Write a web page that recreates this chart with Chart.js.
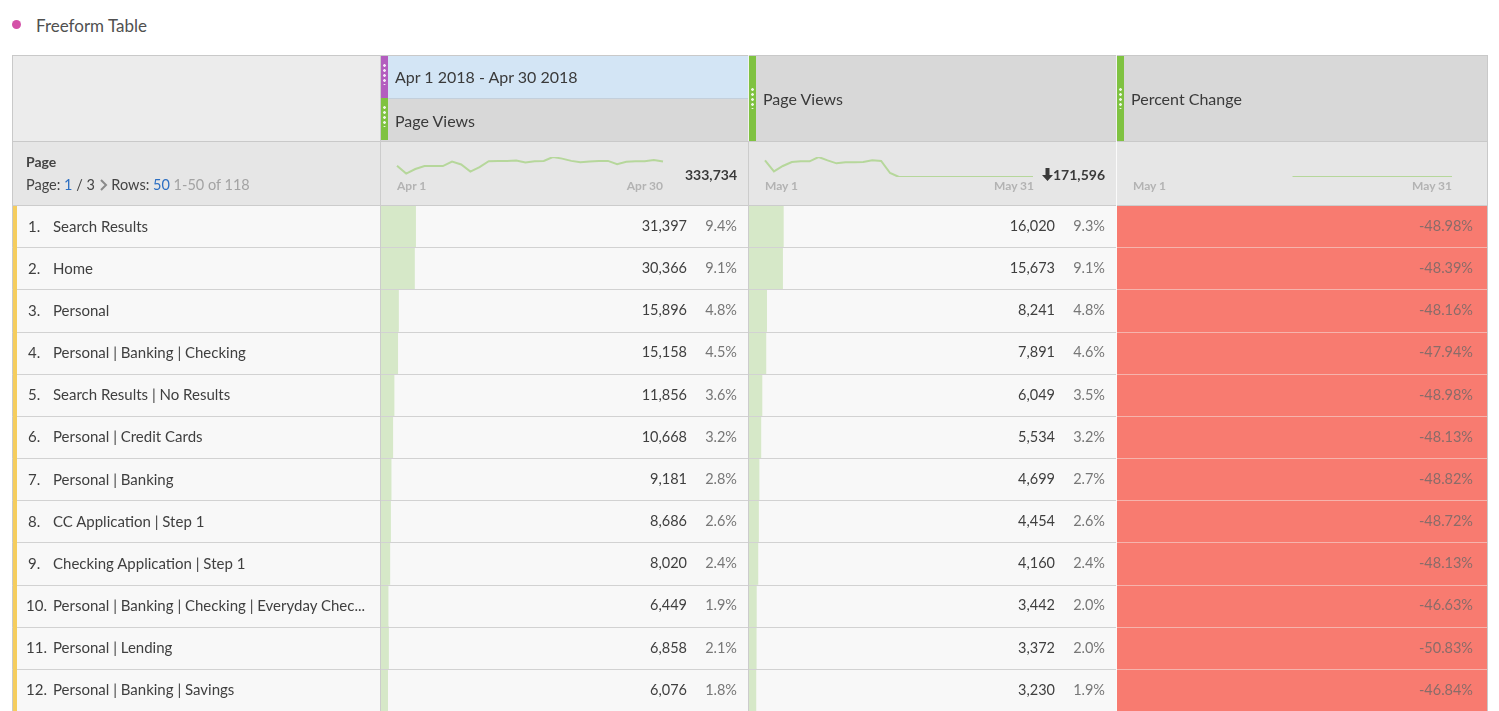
<!DOCTYPE html>
<html>
<head>
<meta charset="utf-8">
<script src="https://cdn.jsdelivr.net/npm/chart.js@4/dist/chart.umd.min.js"></script>
<style>
body { margin: 0; background: #fff; font-family: Lato, "Open Sans", sans-serif; color: #444; }
#wrap { position: relative; width: 1499px; height: 711px; overflow: hidden; }
#wrap div, #wrap canvas { position: absolute; }
.txt { white-space: nowrap; line-height: 1; }
.dots { background-image: radial-gradient(circle, rgba(255,255,255,0.85) 1.1px, transparent 1.6px); background-size: 7px 5px; background-repeat: repeat-y; }
</style>
</head>
<body>
<div id="wrap"></div>
<script>
// table rows
const pages = [
    'Search Results', 'Home', 'Personal', 'Personal | Banking | Checking',
    'Search Results | No Results', 'Personal | Credit Cards', 'Personal | Banking',
    'CC Application | Step 1', 'Checking Application | Step 1',
    'Personal | Banking | Checking | Everyday Chec...', 'Personal | Lending',
    'Personal | Banking | Savings'
];
const aprViews = [31397, 30366, 15896, 15158, 11856, 10668, 9181, 8686, 8020, 6449, 6858, 6076];
const aprPct = ['9.4%', '9.1%', '4.8%', '4.5%', '3.6%', '3.2%', '2.8%', '2.6%', '2.4%', '1.9%', '2.1%', '1.8%'];
const mayViews = [16020, 15673, 8241, 7891, 6049, 5534, 4699, 4454, 4160, 3442, 3372, 3230];
const mayPct = ['9.3%', '9.1%', '4.8%', '4.6%', '3.5%', '3.2%', '2.7%', '2.6%', '2.4%', '2.0%', '2.0%', '1.9%'];
const pctChange = ['-48.98%', '-48.39%', '-48.16%', '-47.94%', '-48.98%', '-48.13%', '-48.82%', '-48.72%', '-48.13%', '-46.63%', '-50.83%', '-46.84%'];
const aprTotal = 333734;
const mayTotal = 171596;

// sparklines (daily)
const aprDays = ['Apr 1', 'Apr 2', 'Apr 3', 'Apr 4', 'Apr 5', 'Apr 6', 'Apr 7', 'Apr 8', 'Apr 9', 'Apr 10',
    'Apr 11', 'Apr 12', 'Apr 13', 'Apr 14', 'Apr 15', 'Apr 16', 'Apr 17', 'Apr 18', 'Apr 19', 'Apr 20',
    'Apr 21', 'Apr 22', 'Apr 23', 'Apr 24', 'Apr 25', 'Apr 26', 'Apr 27', 'Apr 28', 'Apr 29', 'Apr 30'];
const aprDaily = [10785, 9705, 10335, 10740, 10740, 10740, 11370, 10965, 9975, 10605,
    11415, 11460, 11460, 11505, 11235, 11415, 11460, 12000, 11775, 11460,
    11280, 11370, 11460, 11460, 11010, 11325, 11415, 11415, 11595, 11370];
const mayDays = ['May 1', 'May 2', 'May 3', 'May 4', 'May 5', 'May 6', 'May 7', 'May 8', 'May 9', 'May 10',
    'May 11', 'May 12', 'May 13', 'May 14', 'May 15', 'May 16', 'May 17', 'May 18', 'May 19', 'May 20',
    'May 21', 'May 22', 'May 23', 'May 24', 'May 25', 'May 26', 'May 27', 'May 28', 'May 29', 'May 30', 'May 31'];
const mayDaily = [13550, 4600, 8940, 12200, 12740, 12740, 16260, 13550, 11110, 11920,
    11920, 12200, 13550, 13010, 3250, 0, 0, 0, 0, 0,
    0, 0, 0, 0, 0, 0, 0, 0, 0, 0, 0];
const changeDaily = [null, null, null, null, null, null, null, null, null, null,
    null, null, null, null, null, -100, -100, -100, -100, -100,
    -100, -100, -100, -100, -100, -100, -100, -100, -100, -100, -100];

const wrap = document.getElementById('wrap');

function box(x, y, w, h, css) {
    const d = document.createElement('div');
    d.style.left = x + 'px';
    d.style.top = y + 'px';
    d.style.width = w + 'px';
    d.style.height = h + 'px';
    if (css) d.style.cssText += css;
    wrap.appendChild(d);
    return d;
}

// text centred vertically on cy; align left at x or right at x
function text(str, x, cy, size, css, right) {
    const d = document.createElement('div');
    d.className = 'txt';
    d.innerHTML = str;
    d.style.fontSize = size + 'px';
    d.style.top = (cy - size / 2) + 'px';
    if (right) d.style.right = (1499 - x) + 'px';
    else d.style.left = x + 'px';
    if (css) d.style.cssText += css;
    wrap.appendChild(d);
    return d;
}

function makeChart(x, y, w, h, config) {
    const c = document.createElement('canvas');
    c.width = w;
    c.height = h;
    c.style.left = x + 'px';
    c.style.top = y + 'px';
    wrap.appendChild(c);
    config.options = Object.assign({
        responsive: false,
        maintainAspectRatio: false,
        animation: false,
        events: [],
        plugins: { legend: { display: false }, tooltip: { enabled: false } }
    }, config.options);
    return new Chart(c, config);
}

const fmt = v => v.toLocaleString('en-US');

// columns
const colX = [12, 381, 749, 1117, 1487];
const headTop = 55, headBot = 141, sumBot = 205, bottom = 711;
const rowH = (bottom - sumBot) / pages.length;

// title
box(12, 20, 9, 9, 'background:#d451a8;border-radius:50%;');
text('Freeform Table', 36, 25, 17, 'color:#505050;');

// header backgrounds
box(colX[0], headTop, colX[1] - colX[0], headBot - headTop, 'background:#ececec;');
box(colX[1], headTop, colX[2] - colX[1], 43, 'background:#d3e5f5;');
box(colX[1], headTop + 43, colX[2] - colX[1], headBot - headTop - 43, 'background:#d8d8d8;border-top:1px solid #c3cfdb;box-sizing:border-box;');
box(colX[2], headTop, colX[3] - colX[2], headBot - headTop, 'background:#d8d8d8;');
box(colX[3], headTop, colX[4] - colX[3], headBot - headTop, 'background:#d8d8d8;');
// summary row
box(colX[0], headBot, colX[4] - colX[0], sumBot - headBot, 'background:#e6e6e6;');
// data backgrounds
box(colX[0], sumBot, colX[3] - colX[0], bottom - sumBot, 'background:#f8f8f8;');
box(colX[3], sumBot, colX[4] - colX[3], bottom - sumBot, 'background:#f87b70;');

// in-cell bars (share of total)
function barCfg(values, total) {
    return {
        type: 'bar',
        data: {
            labels: pages,
            datasets: [{ data: values, backgroundColor: '#d6e8c8', borderWidth: 0, barPercentage: 1, categoryPercentage: 1 }]
        },
        options: {
            indexAxis: 'y',
            layout: { padding: 0 },
            scales: { x: { display: false, min: 0, max: total }, y: { display: false } }
        }
    };
}
makeChart(colX[1], sumBot, colX[2] - colX[1], bottom - sumBot, barCfg(aprViews, aprTotal));
makeChart(colX[2], sumBot, colX[3] - colX[2], bottom - sumBot, barCfg(mayViews, mayTotal));

// sparklines
function lineCfg(labels, values, min, max) {
    return {
        type: 'line',
        data: {
            labels: labels,
            datasets: [{ data: values, borderColor: '#b6d79b', borderWidth: 2, pointRadius: 0, tension: 0, fill: false }]
        },
        options: {
            layout: { padding: { top: 2, bottom: 2, left: 1, right: 1 } },
            scales: { x: { display: false }, y: { display: false, min: min, max: max } }
        }
    };
}
makeChart(396, 155, 268, 22, lineCfg(aprDays, aprDaily, 9500, 12000));
makeChart(764, 155, 270, 24, lineCfg(mayDays, mayDaily, 0, 16260));
makeChart(1132, 156, 321, 23, lineCfg(mayDays, changeDaily, -100, 0));

// grid lines
box(colX[0], headTop, colX[4] - colX[0] - 1, bottom - headTop + 5, 'border:1px solid #c9c9c9;');
box(colX[0], headBot, colX[4] - colX[0], 1, 'background:#c9c9c9;');
box(colX[0], sumBot, colX[4] - colX[0], 1, 'background:#cccccc;');
for (let i = 1; i < pages.length; i++) {
    const y = Math.round(sumBot + i * rowH);
    box(colX[0], y, colX[3] - colX[0], 1, 'background:#d2d2d2;');
    box(colX[3], y, colX[4] - colX[3], 1, 'background:#f6b3ac;');
}
box(colX[1] - 1, headTop, 1, bottom - headTop, 'background:#cccccc;');
box(colX[2] - 1, headBot, 1, bottom - headBot, 'background:#cccccc;');
box(colX[3] - 1, headBot, 1, bottom - headBot, 'background:#fafafa;');
box(colX[2] - 1, headTop, 1, headBot - headTop, 'background:#f2f2f2;');
box(colX[3] - 1, headTop, 1, headBot - headTop, 'background:#f2f2f2;');
// yellow row marker
box(colX[0] + 1, sumBot + 1, 4, bottom - sumBot, 'background:#f5cd5e;');

// header strips with grip dots
box(colX[1], headTop + 1, 7, 42, 'background:#b35dbf;');
box(colX[1], headTop + 8, 7, 22, '').className = 'dots';
box(colX[1], headTop + 43, 7, 42, 'background:#7fc241;');
box(colX[1], headTop + 50, 7, 22, '').className = 'dots';
box(colX[2], headTop + 1, 7, 85, 'background:#7fc241;');
box(colX[2], headTop + 32, 7, 22, '').className = 'dots';
box(colX[3], headTop + 1, 7, 85, 'background:#7fc241;');
box(colX[3], headTop + 32, 7, 22, '').className = 'dots';

// header text
text('Apr 1 2018 - Apr 30 2018', 395, 77, 16, 'color:#3a3a3a;');
text('Page Views', 395, 121, 16, 'color:#3a3a3a;');
text('Page Views', 763, 99, 16, 'color:#3a3a3a;');
text('Percent Change', 1131, 99, 16, 'color:#3a3a3a;');

// summary row text
const chevron = '<svg width="9" height="12" style="vertical-align:-1px"><path d="M2 1l5 5-5 5" stroke="#8a8a8a" stroke-width="2" fill="none"/></svg>';
text('Page', 26, 162, 14, 'font-weight:bold;color:#444;');
text('Page: <span style="color:#2d6fc2">1</span> / 3 ' + chevron + ' Rows: <span style="color:#2d6fc2">50</span> <span style="color:#a3a3a3">1-50 of 118</span>', 26, 185, 14.5, 'color:#444;');
const lab = 'font-weight:bold;color:#b3b3b3;';
text(aprDays[0], 397, 186, 12, lab);
text(aprDays[aprDays.length - 1], 663, 186, 12, lab, true);
text(mayDays[0], 765, 186, 12, lab);
text(mayDays[mayDays.length - 1], 1034, 186, 12, lab, true);
text(mayDays[0], 1133, 186, 12, lab);
text(mayDays[mayDays.length - 1], 1452, 186, 12, lab, true);
text(fmt(aprTotal), 737, 175, 14, 'font-weight:bold;color:#3a3a3a;', true);
text('<svg width="11" height="13" style="vertical-align:-1px"><path d="M3.5 0h4v7h3.5l-5.5 6-5.5-6h3.5z" fill="#3a3a3a"/></svg>' + fmt(mayTotal), 1105, 175, 14, 'font-weight:bold;color:#3a3a3a;', true);

// row text
pages.forEach((p, i) => {
    const cy = sumBot + (i + 0.5) * rowH;
    text((i + 1) + '.', i < 9 ? 28 : 26, cy, 15, 'color:#3f3f3f;');
    text(p, 53, cy, 15, 'color:#3f3f3f;');
    text(fmt(aprViews[i]), 687, cy, 14.5, 'color:#3f3f3f;', true);
    text(aprPct[i], 737, cy, 14.5, 'color:#777;', true);
    text(fmt(mayViews[i]), 1055, cy, 14.5, 'color:#3f3f3f;', true);
    text(mayPct[i], 1105, cy, 14.5, 'color:#777;', true);
    text(pctChange[i], 1473, cy, 14.5, 'color:#8a6c69;', true);
});
</script>
</body>
</html>
